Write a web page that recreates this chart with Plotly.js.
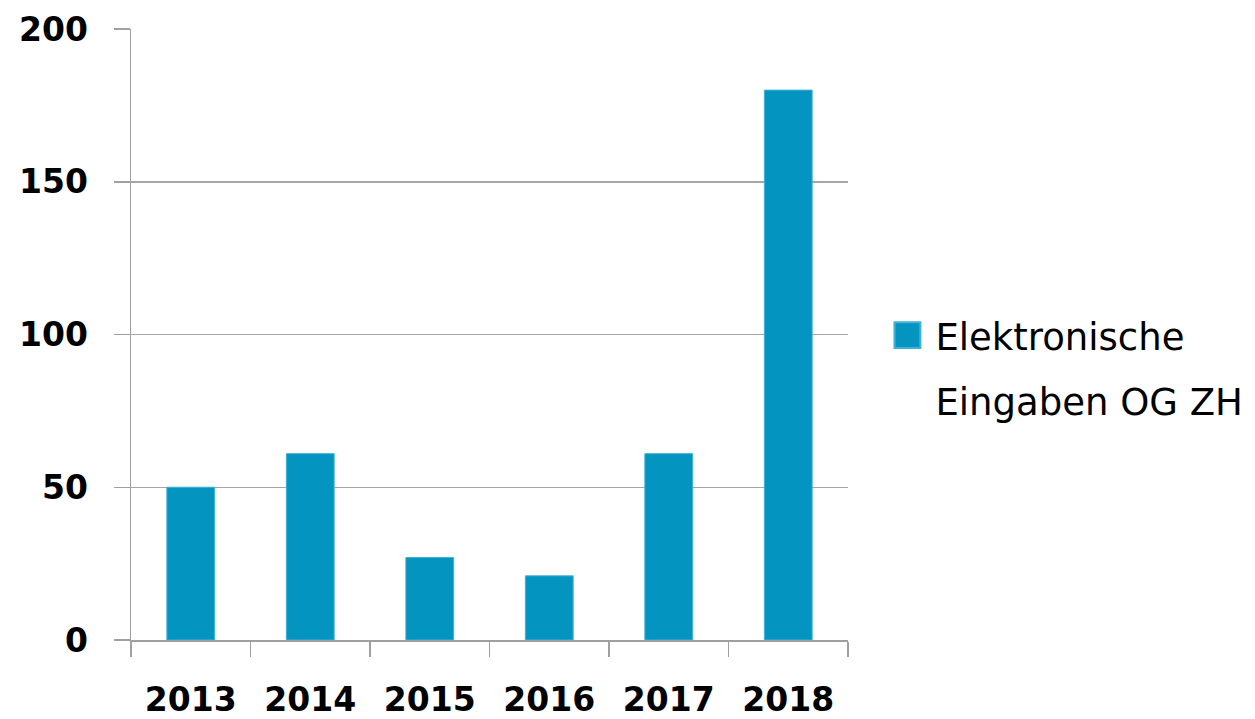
<!DOCTYPE html>
<html>
<head>
<meta charset="utf-8">
<script src="https://cdn.plot.ly/plotly-3.0.1.min.js"></script>
<style>html,body{margin:0;padding:0;background:#fff;}#chart{width:1255px;height:719px;}</style>
</head>
<body>
<div id="chart"></div>
<script>
const years = ['2013', '2014', '2015', '2016', '2017', '2018'];
const eingaben = [50, 61, 27, 21, 61, 180];
const seriesName = 'Elektronische<br>Eingaben OG ZH';
const yTicks = [0, 50, 100, 150, 200];

const FS = 33;
const LFS = 37;

const trace = {
  type: 'bar',
  x: years,
  y: eingaben,
  name: seriesName,
  marker: {color: '#0494c0', line: {color: '#3fb2d8', width: 1}},
  showlegend: true
};

const layout = {
  width: 1255,
  height: 719,
  margin: {l: 131, r: 407, t: 29, b: 79},
  paper_bgcolor: '#ffffff',
  plot_bgcolor: '#ffffff',
  bargap: 0.6,
  font: {family: 'DejaVu Sans', color: '#000000', size: FS},
  xaxis: {
    type: 'category',
    showgrid: false,
    showline: true,
    linecolor: '#a0a0a0',
    linewidth: 1.5,
    ticks: 'outside',
    tickson: 'boundaries',
    ticklen: 15,
    tickcolor: '#a0a0a0',
    tickwidth: 1.5,
    tickfont: {family: 'DejaVu Sans', size: FS, color: '#000000', weight: 'bold'},
    ticklabelstandoff: 30
  },
  yaxis: {
    range: [0, 200],
    tickvals: yTicks,
    ticktext: yTicks.map(String),
    showgrid: true,
    gridcolor: '#a6a6a6',
    gridwidth: 1.5,
    showline: true,
    linecolor: '#a0a0a0',
    linewidth: 1.5,
    zeroline: false,
    ticks: 'outside',
    ticklen: 16,
    tickcolor: '#a0a0a0',
    tickwidth: 1.5,
    tickfont: {family: 'DejaVu Sans', size: FS, color: '#000000', weight: 'bold'},
    ticklabelstandoff: 19
  },
  legend: {
    x: 1.055,
    y: 0.459,
    xanchor: 'left',
    yanchor: 'middle',
    bgcolor: 'rgba(0,0,0,0)',
    font: {family: 'DejaVu Sans', size: LFS, color: '#000000'},
    itemwidth: 30
  }
};

function fixLegend(gd) {
  const sb = gd.querySelector('.legend .scrollbox');
  if (sb) sb.removeAttribute('clip-path');
  const item = gd.querySelector('.legend .traces');
  if (!item) return;
  const pts = item.querySelector('.legendpoints path');
  if (pts && !pts.dataset.fixed) {
    pts.setAttribute('transform', 'translate(20,' + (-0.65 * LFS) + ') scale(2.15)');
    pts.dataset.fixed = '1';
  }
  const txt = item.querySelector('.legendtext');
  if (txt && !txt.dataset.fixed) {
    const lines = txt.querySelectorAll('tspan.line');
    if (lines.length > 1) lines[1].setAttribute('dy', '1.78em');
    txt.setAttribute('transform', 'translate(8,0)');
    txt.dataset.fixed = '1';
  }
}

const gd = document.getElementById('chart');
Plotly.newPlot(gd, [trace], layout, {displayModeBar: false, staticPlot: true}).then(function () {
  fixLegend(gd);
  gd.on('plotly_afterplot', function () { fixLegend(gd); });
});
</script>
</body>
</html>
